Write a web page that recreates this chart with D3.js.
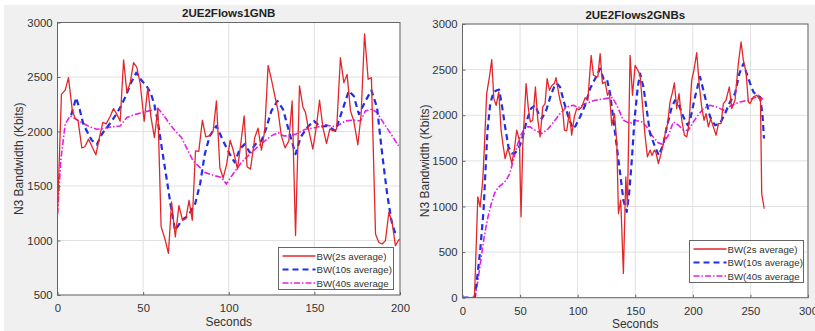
<!DOCTYPE html>
<html><head><meta charset="utf-8">
<script src="https://cdn.jsdelivr.net/npm/d3@7"></script>
<style>
html,body{margin:0;padding:0;background:#fff;}
svg{display:block;}
</style></head>
<body>
<svg id="chart" width="815" height="331"></svg>
<script>
// ---------- DATA ----------
const leftTitle = "2UE2Flows1GNB";
const rightTitle = "2UE2Flows2GNBs";
const xLabel = "Seconds";
const yLabel = "N3 Bandwidth (Kbits)";
const seriesNames = ["BW(2s average)", "BW(10s average)", "BW(40s average"];

const leftXTicks = [0, 50, 100, 150, 200];
const leftYTicks = [500, 1000, 1500, 2000, 2500, 3000];
const rightXTicks = [0, 50, 100, 150, 200, 250, 300];
const rightYTicks = [0, 500, 1000, 1500, 2000, 2500, 3000];

// Left chart (1 GNB)
const left2sT = [0,2.3,4.5,6.4,8.6,10.3,12,14.2,16,18.1,20.2,22.4,24.9,26.5,28.4,30.8,32.7,34.6,36.6,38.6,40.5,42.5,44.4,46.3,48.3,50.6,52.7,54.6,56.6,58.6,60.5,62.9,64.8,66.6,68.8,70.9,73,75,76.8,78.7,80.6,82.5,84.6,86.6,88.6,90.9,92.8,94.8,96.7,98.8,100.8,102.7,105.1,107,109,110.7,112.7,115.2,117.1,119.1,121,123,124.9,126.9,128.8,130.7,132.9,135.1,137,139,141.3,143.3,144.8,146.8,149.1,151.1,153,155,157.1,159,161,163,165.2,167.2,169.1,171.1,173,175.4,177.3,179.3,181.4,183.3,185.7,187.6,189.6,191.5,193.5,195.4,197.3,199.3,200];
const left2sV = [1244,2340,2380,2494,2200,2120,2100,1850,1860,1930,1860,1786,1976,2083,2070,2140,2210,2160,2094,2658,2357,2450,2631,2590,2440,2094,2400,2130,1945,2210,1127,1004,883,1354,1033,1320,1186,1201,1369,1186,1823,1817,2103,1951,1960,2006,2280,1670,1573,1701,1920,1823,1655,1884,2143,1676,1655,1945,2030,1829,2006,2607,2479,2326,2189,1960,1850,1914,2280,1045,2418,2225,2174,2006,1838,2036,2287,2036,1890,2021,2006,2021,2677,2448,2524,2189,2097,1878,2158,2896,2479,2494,1060,984,968,999,1259,1167,953,1005,1010];

const left10sT = [8,10.9,13,15.2,17.1,20,23,25.9,28,31,34,37,40,43,46,49,52,54.5,56.5,58.5,60.9,63.8,66.7,68.7,72.6,76.5,80.4,83.3,86,88.9,92.8,96.7,100.6,103.5,106.4,109.3,112.3,115.6,119.1,122,124.9,128.4,131.7,135.1,139,141.9,145.8,149.7,153.6,157.5,162.3,166.2,170.1,173,176,179.8,183.3,186.6,189.6,192.5,195,197,200];
const left10sV = [2150,2310,2200,2060,2006,1920,1880,1975,2020,2080,2150,2230,2330,2450,2540,2470,2418,2350,2250,2100,1850,1560,1260,1094,1186,1232,1338,1521,1792,1960,2052,1914,1792,1716,1838,1884,1808,1884,1914,2036,2189,2280,2204,2006,1792,1945,2036,2097,2042,2052,2006,2189,2372,2326,2158,2280,2378,2219,1792,1426,1182,1076,1076];

const left40sT = [0,2,4.5,7.4,10,14.2,18,22.9,26,29.8,33,36.6,40.5,44,47.3,51,55,58.6,62,65,68.7,72.4,76,79.2,82.5,86,91.8,95.7,98.6,102.5,107.4,113.2,119.1,124.9,128.8,132,135,139,144.8,150.7,156.5,162.3,168.2,173,177,179.8,183.7,186.6,189.6,193.5,197.3,200];
const left40sV = [1244,1750,2067,2143,2120,2082,2050,2021,2025,2036,2045,2051,2128,2150,2164,2180,2195,2213,2150,2080,2006,1945,1830,1731,1680,1625,1594,1579,1518,1610,1716,1808,1890,1960,1990,1960,1960,1975,2021,2036,2061,2042,2097,2105,2097,2189,2204,2174,2097,2006,1914,1850];

// Right chart (2 GNBs)
const right2sT = [0,10.4,13.3,15.3,17.6,19,21,23.4,25.4,27.2,29.2,31.5,33.5,35,37,39.3,40.8,42.8,45.1,47.1,49.4,50.8,52.3,55.2,57.2,58.9,61,63.3,65.3,67.4,69.7,71.7,73.5,75.5,77.8,79.8,81.2,83.3,84.7,87,88.5,90.5,92.8,94.8,97.1,99.1,101,103.6,106.5,108.8,111.7,113.7,115.7,117.5,119.5,121.5,123.8,125.9,127.5,129.6,132,134,135.4,137.4,139.7,141.8,143.2,145.5,147.6,149.9,152.2,154.2,156.2,158.5,160.6,162.9,164.5,166.6,168,170.1,172.4,174.5,176.5,178.2,180.2,182.3,184,186,188,190.4,192.7,194.7,196.7,199,201,203.4,205.7,207.7,209.7,211.5,213.5,215.5,217.8,220.2,222.2,224.5,226.5,228.8,231.7,233.8,236.6,239.5,241.9,243.9,246.2,248.2,249.7,252.6,255.5,257.5,258.7,259.8,262];
const right2sV = [0,0,1106,996,1288,1653,2237,2420,2610,2182,2109,2255,1836,1690,1525,1635,1580,1471,1635,1836,1726,887,1653,2347,2073,1927,1945,2310,1963,1763,2091,2128,2401,2274,2328,2347,2412,2255,2164,2055,1836,1829,2036,1781,1982,2073,2060,2091,2193,2164,2657,2438,2427,2420,2675,2347,2365,2219,2260,1890,2018,1690,923,1069,266,1325,996,2657,2219,2547,2493,2438,2128,1781,1544,1617,1560,1617,1590,1471,1580,1690,1836,1909,2146,2250,2354,2073,2237,1945,1781,1763,1909,2383,2500,2686,2310,2091,1945,2018,1872,1963,1872,1781,1909,1909,2128,2164,2310,2073,2164,2566,2803,2602,2474,2146,2128,2201,2219,2182,2200,1140,975];

const right10sT = [0,10.4,12.5,15.4,18.3,19.7,21.7,24.1,27,29.8,31.8,34,37,39.9,42.8,46,50,53,55.9,59.4,63.1,66,68.9,72.7,76.7,79.6,81.9,84.7,88,91.9,95.8,98,102.1,106.5,110.8,115.2,119.5,122.4,125.3,128.2,131.1,134,136.9,139.7,142.6,144.7,147,149.3,152.2,154.2,157.1,160,162.9,167.2,170.5,174.5,177.4,181.7,184.6,188,191.8,195.5,197.6,201.9,206.3,210.6,215,219.3,223.6,228,232.3,236.6,240.4,243.9,248.2,252.6,255.5,258.3,260.4,261.8];
const right10sV = [0,0,190,522,960,1325,1836,2128,2255,2274,2281,2128,1872,1653,1580,1590,1671,1799,1945,2073,2109,2018,1963,2055,2219,2310,2347,2310,2150,1982,1854,1880,1982,2109,2292,2401,2511,2401,2401,2237,1945,1653,1361,1069,941,1142,1507,1945,2310,2456,2310,2055,1799,1653,1560,1690,1872,2091,2164,2109,1982,1891,1945,2201,2420,2201,1982,1890,1909,2018,2146,2237,2456,2566,2401,2255,2219,2201,2018,1745];

const right40sT = [0,11,13.5,16,19,22,25,28,31,35,38,41,44,47.1,50,54.4,58.7,63,68.8,74.6,80.3,84.7,90.5,96.3,100.7,106.5,115.2,123.8,130.2,134,139.7,145.5,149.9,155.7,160,164.3,170.1,173.6,178.8,183.1,187.5,191.8,196.2,200.5,203.4,209.2,215,220.7,226.5,233.8,241,248.2,254,256.9,260.7];
const right40sV = [0,0,200,420,680,880,1030,1150,1210,1250,1290,1360,1500,1653,1763,1872,1872,1836,1799,1854,1945,2018,2091,2109,2084,2128,2164,2182,2193,2109,1945,1909,1945,1927,1872,1781,1697,1682,1781,1927,1890,1836,1836,1927,1982,2073,2109,2091,2055,2109,2146,2164,2193,2219,2174];

// ---------- STYLE ----------
const colors = ["#e3262b", "#1f2fe6", "#e61ee6"];
const widths = [1.3, 2.2, 1.6];
const dashes = [null, "6,4", "6,2,1.5,2"];
const FONT = "'Liberation Sans', Arial, Helvetica, sans-serif";
const TXT = "#333";

const svg = d3.select("#chart");
svg.append("rect").attr("width", 815).attr("height", 331).attr("fill", "#f0f0f0");
svg.append("rect").attr("width", 815).attr("height", 5).attr("fill", "#fff");
svg.append("rect").attr("width", 4).attr("height", 331).attr("fill", "#fff");

function drawPanel(cfg) {
  const x = d3.scaleLinear().domain(cfg.xDomain).range([cfg.x0, cfg.x1]);
  const y = d3.scaleLinear().domain(cfg.yDomain).range([cfg.y1, cfg.y0]);
  const g = svg.append("g");
  g.append("rect").attr("x", cfg.x0).attr("y", cfg.y0)
    .attr("width", cfg.x1 - cfg.x0).attr("height", cfg.y1 - cfg.y0).attr("fill", "#fff");
  // grid
  g.append("g").selectAll("line").data(cfg.xTicks).join("line")
    .attr("x1", d => x(d)).attr("x2", d => x(d)).attr("y1", cfg.y0).attr("y2", cfg.y1)
    .attr("stroke", "#e1e1e1").attr("stroke-width", 1);
  g.append("g").selectAll("line").data(cfg.yTicks).join("line")
    .attr("y1", d => y(d)).attr("y2", d => y(d)).attr("x1", cfg.x0).attr("x2", cfg.x1)
    .attr("stroke", "#e1e1e1").attr("stroke-width", 1);
  // series
  const clipId = "clip" + cfg.id;
  svg.append("clipPath").attr("id", clipId).append("rect")
    .attr("x", cfg.x0).attr("y", cfg.y0).attr("width", cfg.x1 - cfg.x0).attr("height", cfg.y1 - cfg.y0);
  const line = d3.line().x(d => x(d[0])).y(d => y(d[1]));
  const order = [2, 1, 0];
  const lg = g.append("g").attr("clip-path", `url(#${clipId})`);
  order.forEach(i => {
    const s = cfg.series[i];
    const pts = s.t.map((t, k) => [t, s.v[k]]);
    lg.append("path").datum(pts).attr("d", line).attr("fill", "none")
      .attr("stroke", colors[i]).attr("stroke-width", widths[i])
      .attr("stroke-dasharray", dashes[i]).attr("stroke-linejoin", "round");
  });
  // axes with inward ticks
  const fmt = d3.format("d");
  const xAxis = d3.axisBottom(x).tickValues(cfg.xTicks).tickFormat(fmt).tickSizeInner(-3).tickSizeOuter(0).tickPadding(9);
  const yAxis = d3.axisLeft(y).tickValues(cfg.yTicks).tickFormat(fmt).tickSizeInner(-3).tickSizeOuter(0).tickPadding(5);
  const xa = g.append("g").attr("transform", `translate(0,${cfg.y1})`).call(xAxis);
  const ya = g.append("g").attr("transform", `translate(${cfg.x0},0)`).call(yAxis);
  [xa, ya].forEach(a => {
    a.selectAll("text").attr("font-family", FONT).attr("font-size", "11.3px").attr("fill", TXT);
    a.selectAll("line").attr("stroke", "#666");
    a.select(".domain").remove();
  });
  // box
  g.append("rect").attr("x", cfg.x0).attr("y", cfg.y0)
    .attr("width", cfg.x1 - cfg.x0).attr("height", cfg.y1 - cfg.y0)
    .attr("fill", "none").attr("stroke", "#666").attr("stroke-width", 1);
  // title & labels
  g.append("text").attr("x", (cfg.x0 + cfg.x1) / 2).attr("y", cfg.titleY)
    .attr("text-anchor", "middle").attr("font-family", FONT).attr("font-weight", "bold")
    .attr("font-size", "11.5px").attr("fill", "#222").text(cfg.title);
  g.append("text").attr("x", (cfg.x0 + cfg.x1) / 2).attr("y", cfg.xLabelY)
    .attr("text-anchor", "middle").attr("font-family", FONT)
    .attr("font-size", "12px").attr("fill", TXT).text(xLabel);
  g.append("text").attr("transform", `translate(${cfg.yLabelX},${(cfg.y0 + cfg.y1) / 2}) rotate(-90)`)
    .attr("text-anchor", "middle").attr("font-family", FONT)
    .attr("font-size", "12px").attr("fill", TXT).text(yLabel);
  // legend
  const L = cfg.legend;
  const leg = g.append("g");
  leg.append("rect").attr("x", L.x).attr("y", L.y).attr("width", L.w).attr("height", L.h)
    .attr("fill", "#fff").attr("stroke", "#666").attr("stroke-width", 1);
  seriesNames.forEach((name, i) => {
    const yy = L.y + 8.5 + i * 13.5;
    leg.append("line").attr("x1", L.x + 4).attr("x2", L.x + 37).attr("y1", yy).attr("y2", yy)
      .attr("stroke", colors[i]).attr("stroke-width", widths[i]).attr("stroke-dasharray", dashes[i]);
    leg.append("text").attr("x", L.x + 38).attr("y", yy + 3.5)
      .attr("font-family", FONT).attr("font-size", "9.7px").attr("fill", TXT).text(name);
  });
}

drawPanel({
  id: "L", x0: 57.5, x1: 400, y0: 22.5, y1: 295,
  xDomain: [0, 200], yDomain: [500, 3000], xTicks: leftXTicks, yTicks: leftYTicks,
  title: leftTitle, titleY: 17, xLabelY: 326, yLabelX: 23,
  legend: { x: 278.5, y: 247.5, w: 115, h: 42 },
  series: [{ t: left2sT, v: left2sV }, { t: left10sT, v: left10sV }, { t: left40sT, v: left40sV }]
});
drawPanel({
  id: "R", x0: 462.5, x1: 808, y0: 24, y1: 297.7,
  xDomain: [0, 300], yDomain: [0, 3000], xTicks: rightXTicks, yTicks: rightYTicks,
  title: rightTitle, titleY: 19, xLabelY: 328, yLabelX: 429,
  legend: { x: 689.5, y: 240.5, w: 114, h: 42 },
  series: [{ t: right2sT, v: right2sV }, { t: right10sT, v: right10sV }, { t: right40sT, v: right40sV }]
});
</script>
</body></html>
